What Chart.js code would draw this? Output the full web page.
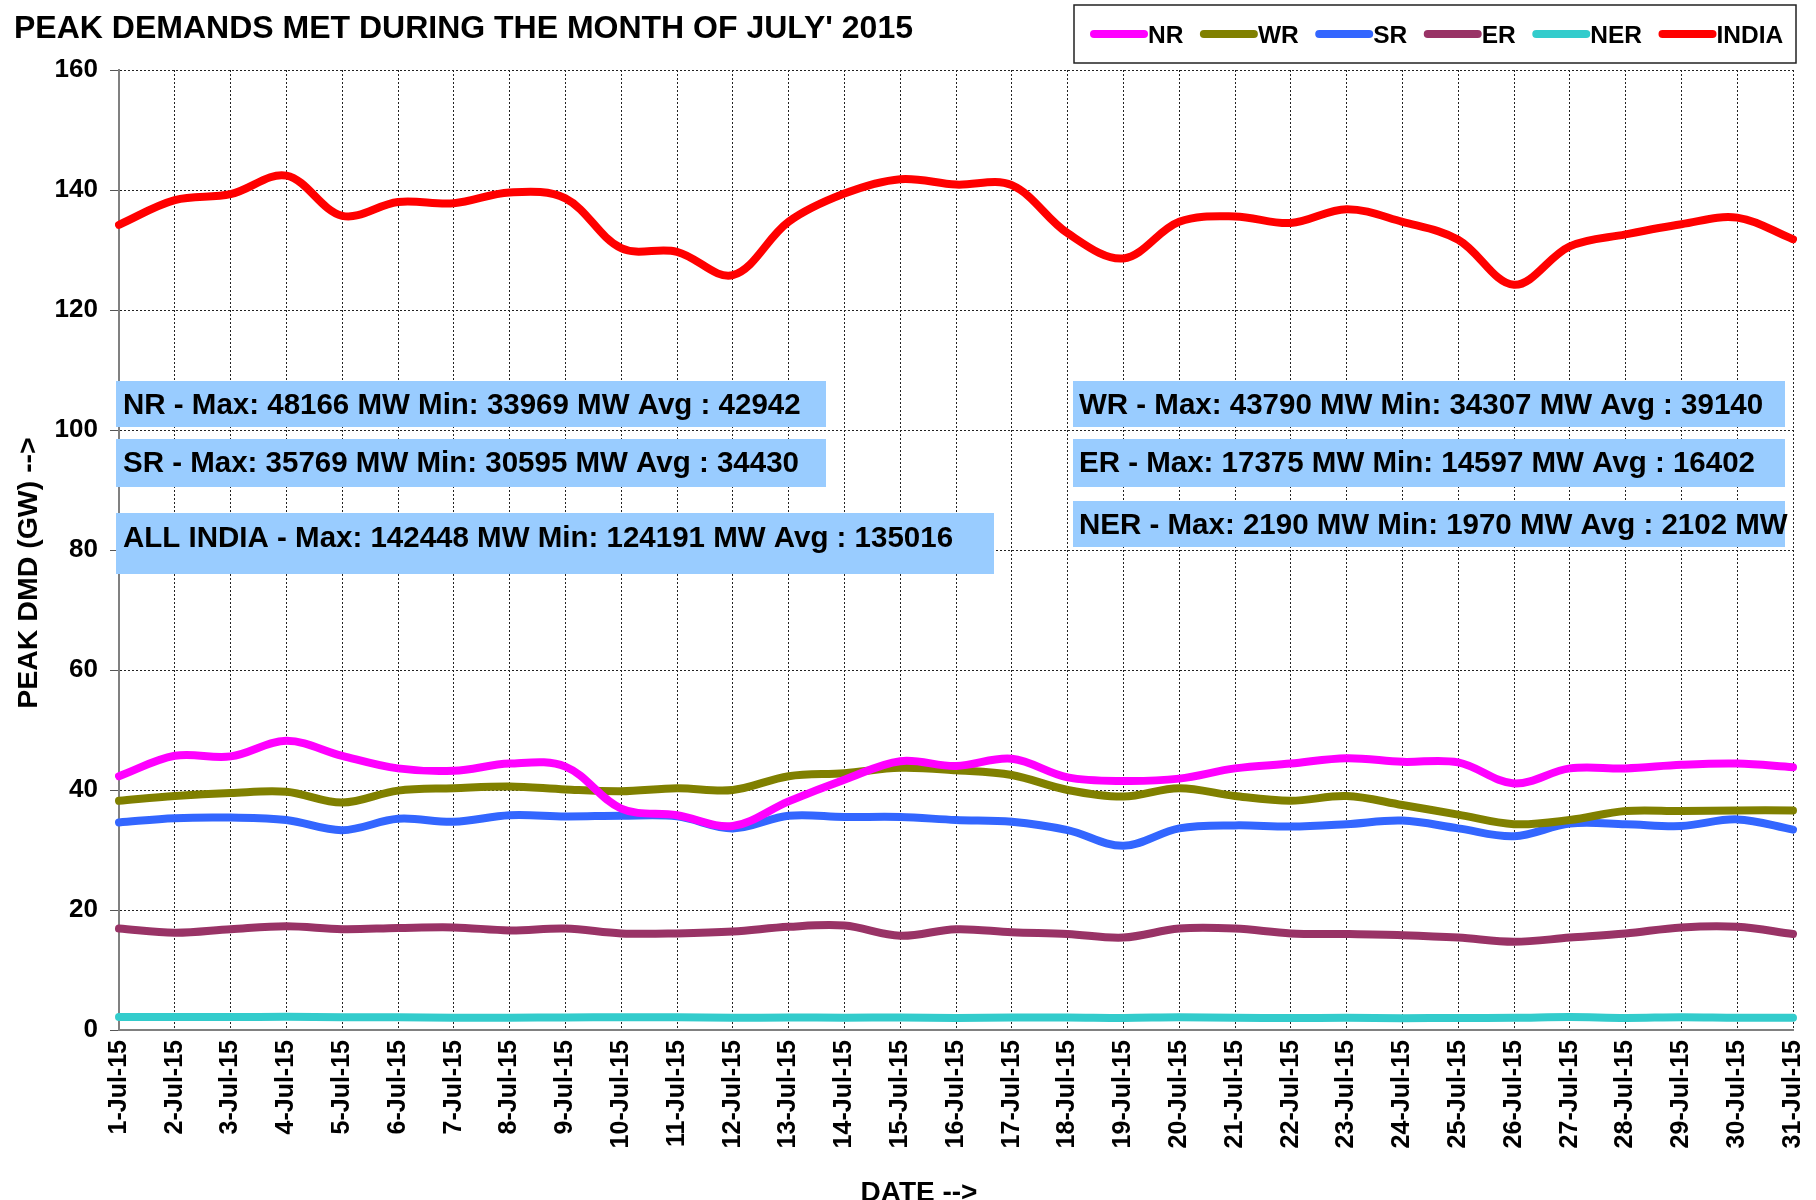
<!DOCTYPE html>
<html>
<head>
<meta charset="utf-8">
<script src="https://cdn.jsdelivr.net/npm/chart.js@4.4.1/dist/chart.umd.min.js"></script>
<style>
  html, body { margin: 0; padding: 0; background: #ffffff; }
  #wrap { width: 1816px; height: 1200px; }
</style>
</head>
<body>
<div id="wrap"><canvas id="c" width="1816" height="1200"></canvas></div>
<script>
// ---- data (GW) ----
const dates = ["1-Jul-15","2-Jul-15","3-Jul-15","4-Jul-15","5-Jul-15","6-Jul-15","7-Jul-15","8-Jul-15","9-Jul-15","10-Jul-15",
  "11-Jul-15","12-Jul-15","13-Jul-15","14-Jul-15","15-Jul-15","16-Jul-15","17-Jul-15","18-Jul-15","19-Jul-15","20-Jul-15",
  "21-Jul-15","22-Jul-15","23-Jul-15","24-Jul-15","25-Jul-15","26-Jul-15","27-Jul-15","28-Jul-15","29-Jul-15","30-Jul-15","31-Jul-15"];
const nr = [42.3,45.7,45.6,48.2,45.7,43.6,43.2,44.4,43.9,36.9,35.8,34.0,38.1,41.7,44.8,44.0,45.2,42.1,41.5,41.9,43.6,44.4,45.3,44.7,44.6,41.1,43.6,43.6,44.2,44.4,43.8];
const wr = [38.2,39.0,39.5,39.7,37.9,39.9,40.3,40.6,40.1,39.8,40.3,40.0,42.3,42.8,43.7,43.3,42.5,40.0,38.9,40.3,39.0,38.2,39.0,37.5,35.9,34.3,35.0,36.5,36.5,36.6,36.6];
const sr = [34.6,35.3,35.4,35.0,33.3,35.2,34.7,35.8,35.6,35.7,35.6,33.6,35.7,35.5,35.5,35.0,34.7,33.3,30.7,33.6,34.1,33.9,34.3,34.9,33.6,32.3,34.4,34.3,34.0,35.1,33.4];
const er = [16.9,16.2,16.8,17.3,16.8,17.0,17.1,16.6,16.9,16.1,16.1,16.4,17.2,17.4,15.7,16.8,16.3,16.0,15.4,16.9,16.9,16.1,16.0,15.8,15.4,14.7,15.4,16.1,17.1,17.2,16.0];
const ner = [2.15,2.16,2.17,2.19,2.14,2.13,2.05,2.04,2.10,2.12,2.11,2.03,2.08,2.06,2.09,2.02,2.07,2.10,2.02,2.11,2.06,1.99,2.05,1.97,2.02,2.03,2.15,2.01,2.12,2.04,2.05];
const india = [134.2,138.3,139.3,142.4,135.7,138.0,137.8,139.6,138.6,130.3,129.7,125.8,134.7,139.4,141.8,140.9,140.8,132.8,128.6,134.7,135.6,134.5,136.8,134.7,131.7,124.2,130.6,132.6,134.3,135.4,131.8];
const seriesNames = ["NR","WR","SR","ER","NER","INDIA"];
const yTicks = [0,20,40,60,80,100,120,140,160];

const titleText = "PEAK DEMANDS MET DURING THE MONTH OF JULY' 2015";
const yTitle = "PEAK DMD (GW) -->";
const xTitle = "DATE -->";
const noteTexts = [
  "NR - Max: 48166 MW Min: 33969 MW Avg : 42942",
  "SR - Max: 35769 MW Min: 30595 MW Avg : 34430",
  "ALL INDIA - Max: 142448 MW Min: 124191 MW Avg : 135016",
  "WR - Max: 43790 MW Min: 34307 MW Avg : 39140",
  "ER - Max: 17375 MW Min: 14597 MW Avg : 16402",
  "NER - Max: 2190 MW Min: 1970 MW Avg : 2102 MW"
];

const colors = ["#FF00FF","#808000","#3366FF","#993366","#33CCCC","#FF0000"];
const FONT = '"Liberation Sans", Arial, sans-serif';

// layout of note boxes (pixels)
const noteLayout = [
  {x:116, y:381, w:710, h:46, tx:123, ty:414},
  {x:116, y:439, w:710, h:48, tx:123, ty:472},
  {x:116, y:513, w:878, h:61, tx:123, ty:547},
  {x:1073, y:381, w:712, h:46, tx:1079, ty:414},
  {x:1073, y:439, w:712, h:48, tx:1079, ty:472},
  {x:1073, y:501, w:712, h:46, tx:1079, ty:534}
];

const decor = {
  id: 'decor',
  beforeDatasetsDraw(chart) {
    const ctx = chart.ctx;
    ctx.save();
    ctx.font = 'bold 29.5px ' + FONT;
    ctx.textBaseline = 'alphabetic';
    ctx.textAlign = 'left';
    noteTexts.forEach((t, i) => {
      const b = noteLayout[i];
      ctx.fillStyle = '#99CCFF';
      ctx.fillRect(b.x, b.y, b.w, b.h);
      ctx.fillStyle = '#000000';
      ctx.fillText(t, b.tx, b.ty);
    });
    ctx.restore();
  },
  afterDraw(chart) {
    const ctx = chart.ctx;
    ctx.save();
    // title
    ctx.fillStyle = '#000';
    ctx.font = 'bold 32px ' + FONT;
    ctx.textAlign = 'left';
    ctx.textBaseline = 'alphabetic';
    ctx.fillText(titleText, 14, 38);
    // legend box
    ctx.fillStyle = '#fff';
    ctx.fillRect(1074, 5, 722, 58);
    ctx.strokeStyle = '#222';
    ctx.lineWidth = 1.5;
    ctx.strokeRect(1074, 5, 722, 58);
    ctx.font = 'bold 24.5px ' + FONT;
    let x = 1090;
    chart.data.datasets.forEach(ds => {
      ctx.strokeStyle = ds.borderColor;
      ctx.lineWidth = 8;
      ctx.lineCap = 'round';
      ctx.beginPath();
      ctx.moveTo(x + 4, 34);
      ctx.lineTo(x + 54, 34);
      ctx.stroke();
      x += 58;
      ctx.fillStyle = '#000';
      ctx.fillText(ds.label, x, 43);
      x += ctx.measureText(ds.label).width + 16.5;
    });
    // axis titles
    ctx.font = 'bold 28.5px ' + FONT;
    ctx.textAlign = 'center';
    ctx.textBaseline = 'middle';
    ctx.save();
    ctx.translate(29, 573);
    ctx.rotate(-Math.PI / 2);
    ctx.fillText(yTitle, 0, 0);
    ctx.restore();
    ctx.font = 'bold 28px ' + FONT;
    ctx.textBaseline = 'alphabetic';
    ctx.fillText(xTitle, 919, 1201);
    ctx.restore();
  }
};

const seriesData = [nr, wr, sr, er, ner, india];
const datasets = seriesNames.map((n, i) => ({
  label: n,
  data: seriesData[i],
  borderColor: colors[i],
  backgroundColor: colors[i],
  borderWidth: 8,
  pointRadius: 0,
  pointHoverRadius: 0,
  tension: 0.35,
  fill: false,
  borderCapStyle: 'round',
  borderJoinStyle: 'round'
}));

new Chart(document.getElementById('c'), {
  type: 'line',
  data: { labels: dates, datasets: datasets },
  options: {
    responsive: false,
    animation: false,
    events: [],
    layout: { padding: { top: 70, right: 23, left: 0, bottom: 0 } },
    plugins: { legend: { display: false }, title: { display: false }, tooltip: { enabled: false } },
    scales: {
      x: {
        type: 'category',
        offset: false,
        afterFit(s) { s.height = 170; s.paddingRight = 0; s.paddingLeft = 0; },
        grid: { color: '#222', lineWidth: 1, drawTicks: false },
        border: { display: true, color: '#808080', width: 2, dash: [2, 2] },
        ticks: {
          color: '#000', font: { family: FONT, size: 25, weight: 'bold' },
          maxRotation: 90, minRotation: 90, autoSkip: false, padding: 10
        }
      },
      y: {
        min: 0, max: 160,
        afterFit(s) { s.width = 119; },
        afterBuildTicks(s) { s.ticks = yTicks.map(v => ({ value: v })); },
        grid: { color: '#222', lineWidth: 1, drawTicks: true, tickLength: 9, tickColor: '#555' },
        border: { display: true, color: '#808080', width: 2, dash: [2, 2] },
        ticks: { color: '#000', font: { family: FONT, size: 26, weight: 'bold' }, padding: 12, stepSize: 20 }
      }
    }
  },
  plugins: [decor]
});
</script>
</body>
</html>
